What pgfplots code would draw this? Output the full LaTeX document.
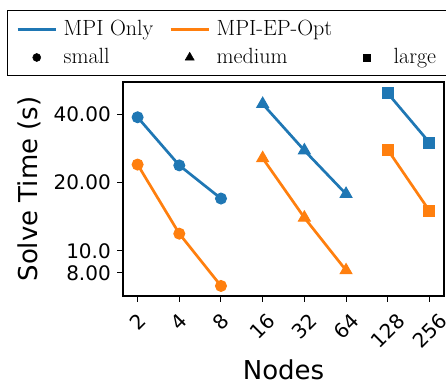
\documentclass[border=0pt]{standalone}
\usepackage{pgfplots}
\pgfplotsset{compat=1.18}
\usepackage{fontspec}
\usepackage{graphicx}
\newfontfamily\djv{DejaVu Sans}
\definecolor{tabblue}{HTML}{1F77B4}
\definecolor{taborange}{HTML}{FF7F0E}
\newcommand{\tickfont}{\djv\fontsize{20bp}{24bp}\selectfont}
\newcommand{\xtl}[1]{\rotatebox{45}{\tickfont #1}}
\begin{document}
\begin{tikzpicture}
\begin{axis}[
  scale only axis, width=321bp, height=214bp,
  at={(0,0)}, anchor=south west,
  xmode=log, log basis x=2, ymode=log,
  xmin=1.569, xmax=326.2, ymin=6.32, ymax=55.5,
  xtick={2,4,8,16,32,64,128,256},
  xticklabels={\xtl{2},\xtl{4},\xtl{8},\xtl{16},\xtl{32},\xtl{64},\xtl{128},\xtl{256}},
  ytick={8,10,20,40}, yticklabels={\mbox{\tickfont 8.00},\mbox{\tickfont 10.0},\mbox{\tickfont 20.00},\mbox{\tickfont 40.00}},
  minor xtick={}, minor ytick={},
  xtick pos=left, ytick pos=left,
  tick align=outside, major tick length=6bp,
  tick style={black, line width=1bp},
  axis line style={black, line width=1.2bp},
  yticklabel style={font=\tickfont, anchor=east, inner sep=0pt, text height=14.6bp, text depth=0bp, xshift=-6bp},
  xticklabel style={font=\tickfont, anchor=north, inner sep=0pt, yshift=-10bp},
  xlabel={Nodes}, ylabel={Solve Time (s)},
  label style={font=\djv\fontsize{26bp}{31bp}\selectfont, inner sep=0pt},
  xlabel style={at={(axis description cs:0.5,-0.3925)}, anchor=base},
  ylabel style={at={(axis description cs:-0.2928,0.5)}, anchor=center},
  legend columns=3,
  legend style={
    at={(axis description cs:0,1)}, anchor=north west,
    xshift=-115bp, yshift=71.3bp,
    draw=black, line width=1bp,
    inner xsep=8.4bp, inner ysep=9.5bp, outer sep=0pt,
    row sep=10.3bp, column sep=0pt,
    font=\fontsize{22bp}{26bp}\selectfont,
    nodes={inner sep=0pt, text height=15bp, text depth=3bp, anchor=west},
  },
]
% small
\addplot[tabblue, line width=2.7bp, mark=*, mark size=5.5bp, mark options={line width=1bp}, forget plot] coordinates {(2,38.8) (4,23.8) (8,17.0)};
\addplot[taborange, line width=2.7bp, mark=*, mark size=5.5bp, mark options={line width=1bp}, forget plot] coordinates {(2,24.0) (4,11.9) (8,7.0)};
% medium
\addplot[tabblue, line width=2.7bp, mark=triangle*, mark size=6.8bp, mark options={line width=1bp}, forget plot] coordinates {(16,44.4) (32,27.7) (64,17.8)};
\addplot[taborange, line width=2.7bp, mark=triangle*, mark size=6.8bp, mark options={line width=1bp}, forget plot] coordinates {(16,25.6) (32,14.0) (64,8.2)};
% large
\addplot[tabblue, line width=2.7bp, mark=square*, mark size=5.5bp, mark options={line width=1bp}, forget plot] coordinates {(128,49.5) (256,30.0)};
\addplot[taborange, line width=2.7bp, mark=square*, mark size=5.5bp, mark options={line width=1bp}, forget plot] coordinates {(128,27.9) (256,15.0)};
% legend
\addlegendimage{legend image code/.code={\path[draw=none] (0bp,0bp) -- (46bp,0bp); \draw[tabblue, line width=2.7bp] (0bp,0bp) -- (38bp,0bp);}}
\addlegendentry{\makebox[105.6bp][l]{MPI Only}}
\addlegendimage{legend image code/.code={\path[draw=none] (0bp,0bp) -- (46bp,0bp); \draw[taborange, line width=2.7bp] (0bp,0bp) -- (38bp,0bp);}}
\addlegendentry{\makebox[131bp][l]{MPI-EP-Opt}}
\addlegendimage{legend image code/.code={\path[draw=none] (0bp,0bp) -- (46bp,0bp);}}
\addlegendentry{\makebox[100bp][l]{}}
\addlegendimage{legend image code/.code={\path[draw=none] (0bp,0bp) -- (46bp,0bp); \draw[black, line width=0.5bp] plot[mark=*, mark size=4bp, mark options={fill=black}] coordinates {(19bp,0bp)};}}
\addlegendentry{\makebox[105.6bp][l]{small}}
\addlegendimage{legend image code/.code={\path[draw=none] (0bp,0bp) -- (46bp,0bp); \draw[black, line width=0.5bp] plot[mark=triangle*, mark size=5.2bp, mark options={fill=black}] coordinates {(19bp,0bp)};}}
\addlegendentry{\makebox[131bp][l]{medium}}
\addlegendimage{legend image code/.code={\path[draw=none] (0bp,0bp) -- (46bp,0bp); \draw[black, line width=0.5bp] plot[mark=square*, mark size=3.6bp, mark options={fill=black}] coordinates {(19bp,0bp)};}}
\addlegendentry{\makebox[100bp][l]{large}}
\end{axis}
\pgfresetboundingbox
\path (-123bp,-87bp) rectangle (323bp,296bp);
\end{tikzpicture}
\end{document}
